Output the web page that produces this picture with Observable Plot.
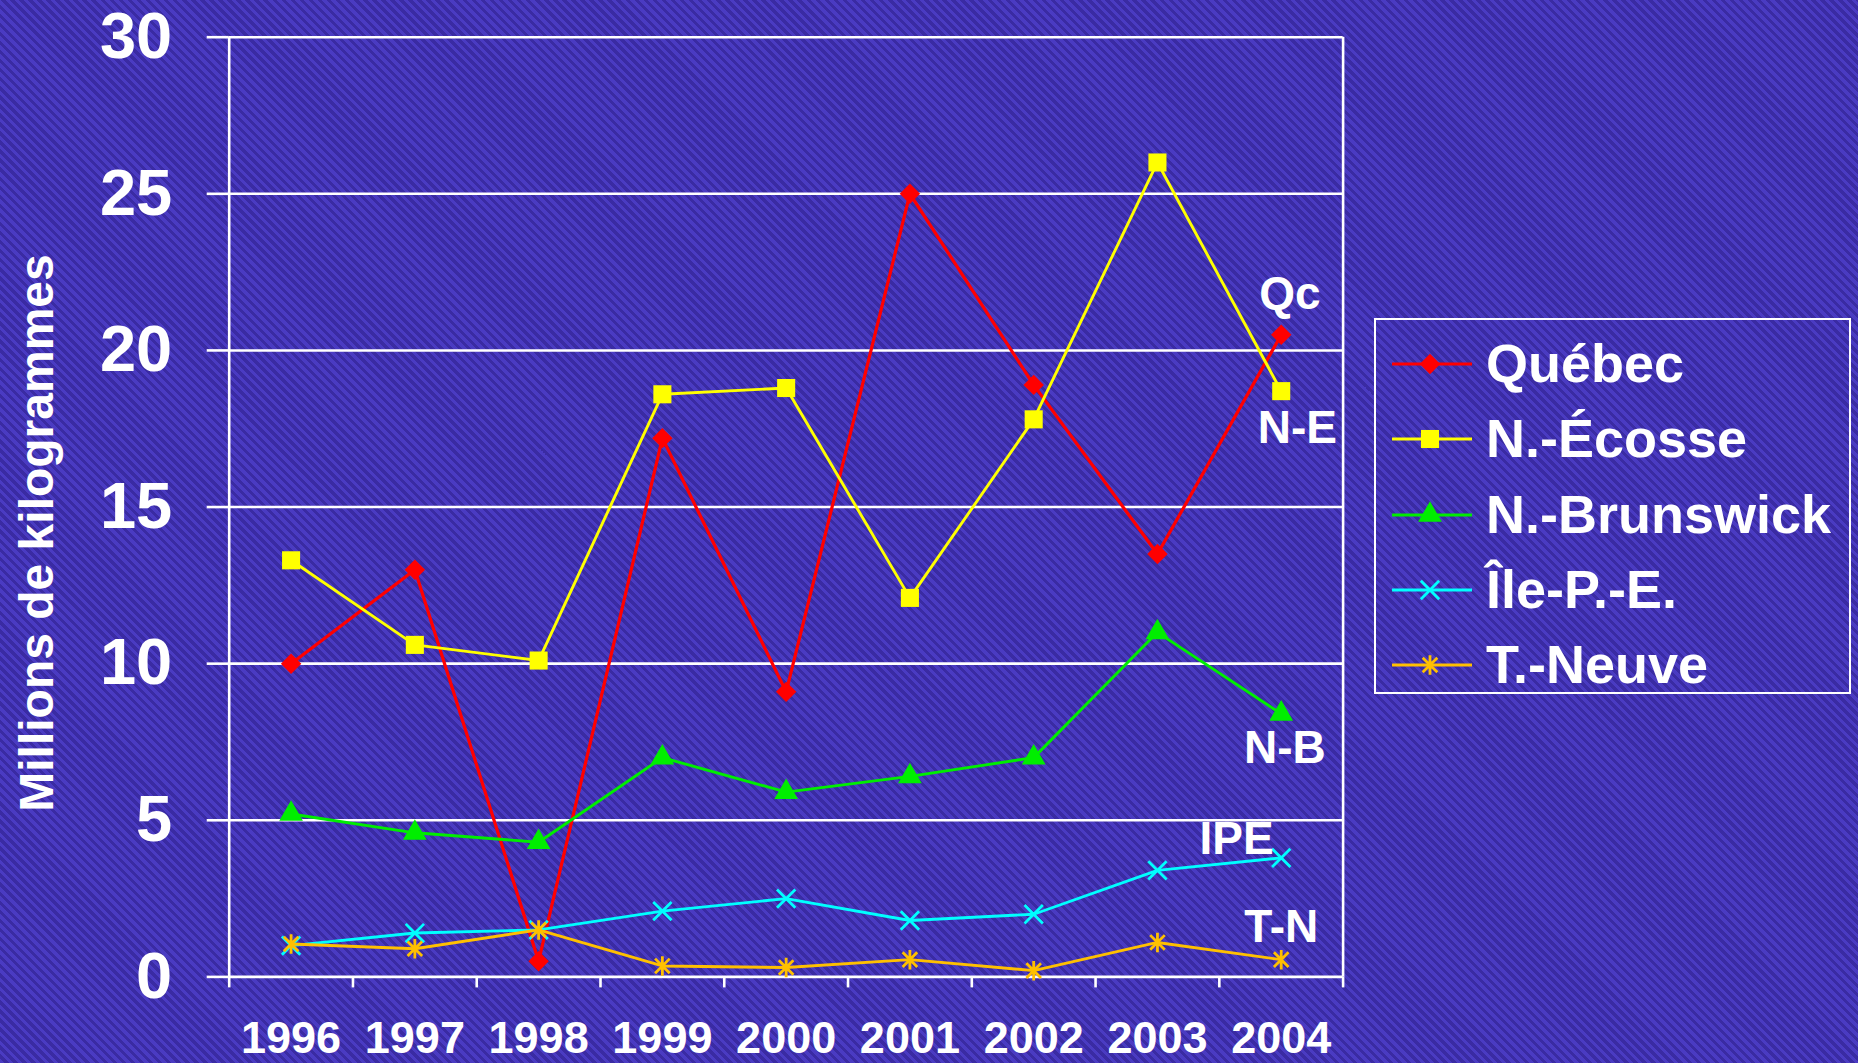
<!DOCTYPE html>
<html>
<head>
<meta charset="utf-8">
<script src="https://cdn.jsdelivr.net/npm/d3@7"></script>
<script src="https://cdn.jsdelivr.net/npm/@observablehq/plot@0.6"></script>
<style>
  html, body { margin: 0; padding: 0; width: 1858px; height: 1063px; overflow: hidden; }
  body {
    position: relative;
    background: repeating-linear-gradient(45deg, #4a3bc2 0px, #4a3bc2 3.2px, #3a2ba3 3.2px, #3a2ba3 6.4px);
    font-family: "Liberation Sans", Arial, sans-serif;
    font-weight: bold;
    color: #fff;
  }
  #chart { position: absolute; left: 0; top: 0; }
  #ytitle {
    position: absolute; left: 36px; top: 533px;
    transform: translate(-50%, -50%) rotate(-90deg);
    white-space: nowrap; font-size: 48px; font-weight: bold;
  }
  #legend {
    position: absolute; left: 1374px; top: 318px; width: 477px; height: 376px;
    border: 2.5px solid #fff; box-sizing: border-box; padding-top: 6px;
  }
  .row { position: relative; height: 75.3px; display: flex; align-items: center; }
  .row svg { position: absolute; left: 14px; top: 21px; }
  .row span { position: absolute; left: 110px; font-size: 54px; line-height: 75px; top: 0; }
</style>
</head>
<body>
<div id="chart"></div>
<div id="ytitle">Millions de kilogrammes</div>
<div id="legend"></div>
<script>
// ---- data ----
const years = [1996, 1997, 1998, 1999, 2000, 2001, 2002, 2003, 2004];
const seriesNames = ["Québec", "N.-Écosse", "N.-Brunswick", "Île-P.-E.", "T.-Neuve"];
const quebec      = [10.0, 13.0, 0.5, 17.2, 9.1, 25.0, 18.9, 13.5, 20.5];
const novaScotia  = [13.3, 10.6, 10.1, 18.6, 18.8, 12.1, 17.8, 26.0, 18.7];
const newBrunswick= [5.2, 4.6, 4.3, 7.0, 5.9, 6.4, 7.0, 11.0, 8.4];
const pei         = [1.0, 1.4, 1.5, 2.1, 2.5, 1.8, 2.0, 3.4, 3.8];
const newfoundland= [1.05, 0.9, 1.5, 0.35, 0.3, 0.55, 0.2, 1.1, 0.55];
const yTicks = [0, 5, 10, 15, 20, 25, 30];
const labelNames  = ["Qc", "N-E", "N-B", "IPE", "T-N"];
const labelYears  = [2004.07, 2004.13, 2004.03, 2003.64, 2004.0];
const labelValues = [21.8, 17.5, 7.3, 4.4, 1.6];

// ---- styles ----
const excelStar = {
  draw(ctx, size) {
    const h = Math.sqrt(size) * 0.5, d = h * 0.75;
    ctx.moveTo(0, -h); ctx.lineTo(0, h);
    ctx.moveTo(-d, -d); ctx.lineTo(d, d);
    ctx.moveTo(-d, d); ctx.lineTo(d, -d);
  }
};
const styles = [
  {color: "#ff0000", symbol: "diamond2", filled: true, r: 9.2},
  {color: "#ffff00", symbol: "square", filled: true, r: 10.2},
  {color: "#00ee00", symbol: "triangle", filled: true, r: 8.8},
  {color: "#00ffff", symbol: "times", filled: false, r: 8.4},
  {color: "#ffc000", symbol: excelStar, filled: false, r: 11}
];
const values = [quebec, novaScotia, newBrunswick, pei, newfoundland];

const W = 1858, H = 1063;
const mL = 228.7, mR = W - 1342.6, mT = 36.7, mB = H - 976.4;
const bounds = years.map(y => y - 0.5).concat([years[years.length - 1] + 0.5]);

const marks = [
  Plot.ruleY(yTicks, {stroke: "white", strokeWidth: 2.6}),
  Plot.ruleX([bounds[0], bounds[bounds.length - 1]], {y1: 0, y2: 30, stroke: "white", strokeWidth: 2.6}),
  Plot.axisY({ticks: yTicks, tickSize: 22, tickPadding: 35, stroke: "white", fill: "white",
              strokeWidth: 2.6, strokeOpacity: 1, fontSize: 65, fontWeight: "bold", label: null}),
  Plot.axisX({ticks: bounds, tickSize: 11, tickFormat: () => "", stroke: "white",
              strokeWidth: 2.6, strokeOpacity: 1, label: null}),
  Plot.axisX({ticks: years, tickSize: 0, tickPadding: 44, tickFormat: d => String(d), fill: "white",
              fontSize: 45, fontWeight: "bold", label: null})
];

values.forEach((vals, i) => {
  const s = styles[i];
  const rows = years.map((y, j) => ({year: y, value: vals[j], series: seriesNames[i]}));
  marks.push(Plot.line(rows, {x: "year", y: "value", stroke: s.color, strokeWidth: i === 0 ? 3.2 : 2.9}));
  marks.push(Plot.dot(rows, {
    x: "year", y: "value", symbol: s.symbol, r: s.r,
    fill: s.filled ? s.color : "none",
    stroke: s.filled ? "none" : s.color,
    strokeWidth: s.filled ? 0 : 2.8
  }));
});

const labels = labelNames.map((t, i) => ({text: t, year: labelYears[i], value: labelValues[i]}));
marks.push(Plot.text(labels, {x: "year", y: "value", text: "text", fill: "white",
  fontSize: 46, fontWeight: "bold", textAnchor: "middle"}));

const chart = Plot.plot({
  width: W, height: H,
  marginLeft: mL, marginRight: mR, marginTop: mT, marginBottom: mB,
  style: {background: "transparent", fontFamily: "Liberation Sans, Arial, sans-serif", color: "white", overflow: "visible"},
  x: {type: "linear", domain: [bounds[0], bounds[bounds.length - 1]]},
  y: {type: "linear", domain: [0, 30]},
  marks
});
document.getElementById("chart").appendChild(chart);

// ---- legend ----
const legend = d3.select("#legend");
const d3Sym = {"diamond2": d3.symbolDiamond2, "square": d3.symbolSquare, "triangle": d3.symbolTriangle, "times": d3.symbolTimes};
seriesNames.forEach((name, i) => {
  const s = styles[i];
  const row = legend.append("div").attr("class", "row");
  const svg = row.append("svg").attr("width", 84).attr("height", 34);
  svg.append("line").attr("x1", 2).attr("x2", 82).attr("y1", 17).attr("y2", 17)
     .attr("stroke", s.color).attr("stroke-width", 2.8);
  const type = typeof s.symbol === "string" ? d3Sym[s.symbol] : s.symbol;
  svg.append("path").attr("transform", "translate(40,17)")
     .attr("d", d3.symbol().type(type).size(Math.PI * s.r * s.r)())
     .attr("fill", s.filled ? s.color : "none")
     .attr("stroke", s.filled ? "none" : s.color)
     .attr("stroke-width", 2.8);
  row.append("span").text(name);
});
</script>
</body>
</html>
